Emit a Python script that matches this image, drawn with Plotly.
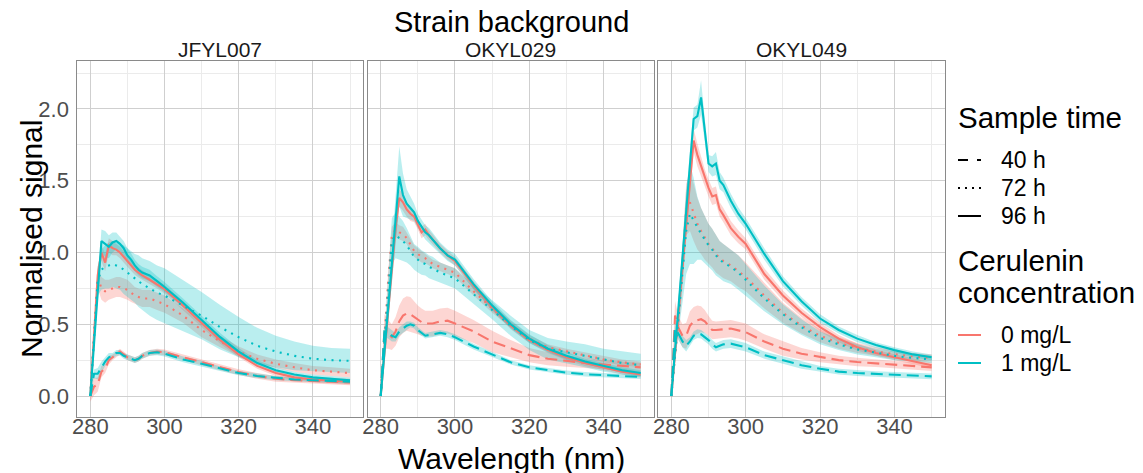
import plotly.graph_objects as go

# ---------------- data ----------------
wavelength = [280, 281, 282, 283, 284, 285, 286, 287, 288, 289, 290, 291, 292, 293, 294,
              296, 298, 300, 305, 310, 315, 320, 325, 330, 335, 340, 345, 350]
strains = ["JFYL007", "OKYL029", "OKYL049"]
times = ["40 h", "72 h", "96 h"]
concs = ["0 mg/L", "1 mg/L"]

# JFYL007
JFYL007_0mg_40h = [0, 0.065, 0.08, 0.17, 0.19, 0.25, 0.27, 0.29, 0.31, 0.29, 0.27, 0.26, 0.25, 0.26, 0.28, 0.30, 0.31, 0.305, 0.27, 0.237, 0.20, 0.167, 0.14, 0.12, 0.11, 0.105, 0.10, 0.095]
JFYL007_0mg_72h = [0, 0.42, 0.83, 0.75, 0.73, 0.74, 0.75, 0.76, 0.76, 0.75, 0.74, 0.72, 0.70, 0.69, 0.68, 0.68, 0.66, 0.64, 0.56, 0.46, 0.38, 0.31, 0.26, 0.225, 0.20, 0.18, 0.17, 0.16]
JFYL007_0mg_96h = [0, 0.45, 0.84, 1.00, 0.93, 1.05, 1.03, 1.02, 1.00, 0.97, 0.94, 0.91, 0.88, 0.86, 0.84, 0.81, 0.78, 0.745, 0.63, 0.51, 0.39, 0.29, 0.21, 0.16, 0.13, 0.115, 0.105, 0.10]
JFYL007_1mg_40h = [0, 0.155, 0.155, 0.20, 0.24, 0.27, 0.28, 0.30, 0.30, 0.28, 0.27, 0.26, 0.25, 0.26, 0.28, 0.30, 0.305, 0.295, 0.255, 0.225, 0.19, 0.16, 0.14, 0.125, 0.115, 0.11, 0.105, 0.10]
JFYL007_1mg_72h = [0, 0.40, 0.80, 0.88, 0.90, 0.91, 0.92, 0.91, 0.90, 0.88, 0.86, 0.84, 0.82, 0.80, 0.78, 0.75, 0.72, 0.70, 0.63, 0.56, 0.48, 0.41, 0.35, 0.31, 0.28, 0.26, 0.25, 0.245]
JFYL007_1mg_96h = [0, 0.35, 0.70, 1.08, 1.06, 1.04, 1.07, 1.08, 1.06, 1.03, 0.98, 0.95, 0.91, 0.88, 0.86, 0.84, 0.80, 0.76, 0.65, 0.53, 0.41, 0.31, 0.23, 0.18, 0.15, 0.13, 0.12, 0.11]
JFYL007_0mg_40h_sd = [0.04, 0.06, 0.05, 0.04, 0.03, 0.03, 0.02, 0.02, 0.02, 0.02, 0.02, 0.02, 0.02, 0.02, 0.02, 0.02, 0.02, 0.02, 0.02, 0.02, 0.02, 0.02, 0.02, 0.02, 0.02, 0.02, 0.02, 0.02]
JFYL007_0mg_72h_sd = [0, 0.05, 0.08, 0.08, 0.08, 0.07, 0.07, 0.07, 0.07, 0.07, 0.07, 0.065, 0.06, 0.06, 0.06, 0.06, 0.06, 0.06, 0.05, 0.05, 0.04, 0.035, 0.03, 0.03, 0.03, 0.03, 0.03, 0.03]
JFYL007_0mg_96h_sd = [0, 0.04, 0.06, 0.06, 0.06, 0.05, 0.05, 0.04, 0.04, 0.04, 0.04, 0.04, 0.035, 0.035, 0.035, 0.03, 0.03, 0.03, 0.03, 0.03, 0.025, 0.02, 0.02, 0.02, 0.02, 0.02, 0.02, 0.02]
JFYL007_1mg_40h_sd = [0, 0.03, 0.04, 0.04, 0.03, 0.03, 0.02, 0.02, 0.02, 0.02, 0.02, 0.02, 0.02, 0.02, 0.02, 0.02, 0.02, 0.02, 0.02, 0.02, 0.015, 0.015, 0.015, 0.015, 0.015, 0.015, 0.015, 0.015]
JFYL007_1mg_72h_sd = [0, 0.05, 0.10, 0.14, 0.15, 0.16, 0.16, 0.16, 0.16, 0.17, 0.17, 0.17, 0.17, 0.18, 0.18, 0.19, 0.19, 0.19, 0.18, 0.165, 0.155, 0.14, 0.125, 0.11, 0.10, 0.09, 0.085, 0.085]
JFYL007_1mg_96h_sd = [0, 0.03, 0.05, 0.08, 0.09, 0.08, 0.07, 0.06, 0.05, 0.05, 0.05, 0.045, 0.04, 0.04, 0.04, 0.04, 0.035, 0.035, 0.03, 0.03, 0.03, 0.025, 0.02, 0.02, 0.02, 0.02, 0.02, 0.02]

# OKYL029
OKYL029_0mg_40h = [0, 0.45, 0.43, 0.41, 0.45, 0.52, 0.56, 0.575, 0.57, 0.55, 0.53, 0.515, 0.505, 0.505, 0.505, 0.52, 0.525, 0.505, 0.45, 0.38, 0.33, 0.285, 0.26, 0.244, 0.23, 0.22, 0.21, 0.20]
OKYL029_0mg_72h = [0, 0.40, 0.80, 1.12, 1.16, 1.14, 1.13, 1.10, 1.05, 1.01, 0.99, 0.97, 0.96, 0.94, 0.92, 0.90, 0.88, 0.86, 0.73, 0.61, 0.50, 0.40, 0.34, 0.31, 0.285, 0.255, 0.235, 0.22]
OKYL029_0mg_96h = [0, 0.30, 0.60, 0.90, 1.17, 1.38, 1.35, 1.30, 1.27, 1.25, 1.20, 1.14, 1.16, 1.12, 1.09, 1.03, 0.98, 0.94, 0.77, 0.62, 0.49, 0.39, 0.32, 0.27, 0.23, 0.20, 0.17, 0.15]
OKYL029_1mg_40h = [0, 0.45, 0.44, 0.42, 0.41, 0.45, 0.47, 0.49, 0.50, 0.49, 0.46, 0.44, 0.42, 0.425, 0.43, 0.44, 0.43, 0.41, 0.345, 0.29, 0.235, 0.20, 0.18, 0.163, 0.152, 0.144, 0.138, 0.133]
OKYL029_1mg_72h = [0, 0.37, 0.75, 1.08, 1.12, 1.10, 1.08, 1.05, 1.01, 0.97, 0.95, 0.93, 0.92, 0.90, 0.89, 0.86, 0.84, 0.82, 0.71, 0.60, 0.49, 0.39, 0.33, 0.305, 0.28, 0.25, 0.23, 0.215]
OKYL029_1mg_96h = [0, 0.31, 0.61, 0.92, 1.22, 1.53, 1.40, 1.34, 1.31, 1.28, 1.22, 1.18, 1.14, 1.12, 1.09, 1.03, 0.98, 0.95, 0.78, 0.63, 0.50, 0.40, 0.33, 0.28, 0.24, 0.21, 0.18, 0.16]
OKYL029_0mg_40h_sd = [0, 0.12, 0.10, 0.09, 0.10, 0.11, 0.12, 0.12, 0.12, 0.11, 0.10, 0.095, 0.09, 0.09, 0.09, 0.09, 0.09, 0.09, 0.08, 0.075, 0.06, 0.05, 0.045, 0.04, 0.035, 0.03, 0.03, 0.03]
OKYL029_0mg_72h_sd = [0, 0.04, 0.06, 0.06, 0.05, 0.05, 0.05, 0.04, 0.04, 0.04, 0.04, 0.04, 0.035, 0.03, 0.03, 0.03, 0.03, 0.03, 0.03, 0.03, 0.025, 0.025, 0.02, 0.02, 0.02, 0.02, 0.02, 0.02]
OKYL029_0mg_96h_sd = [0, 0.04, 0.06, 0.06, 0.06, 0.06, 0.06, 0.05, 0.05, 0.04, 0.04, 0.04, 0.04, 0.035, 0.035, 0.03, 0.03, 0.03, 0.03, 0.025, 0.025, 0.02, 0.02, 0.02, 0.02, 0.02, 0.02, 0.02]
OKYL029_1mg_40h_sd = [0, 0.04, 0.04, 0.04, 0.03, 0.03, 0.03, 0.03, 0.02, 0.02, 0.02, 0.02, 0.02, 0.02, 0.02, 0.02, 0.02, 0.02, 0.02, 0.015, 0.015, 0.015, 0.015, 0.015, 0.015, 0.015, 0.015, 0.015]
OKYL029_1mg_72h_sd = [0, 0.06, 0.12, 0.16, 0.16, 0.15, 0.14, 0.12, 0.10, 0.09, 0.09, 0.085, 0.08, 0.08, 0.08, 0.07, 0.07, 0.07, 0.065, 0.065, 0.07, 0.07, 0.075, 0.075, 0.08, 0.08, 0.08, 0.08]
OKYL029_1mg_96h_sd = [0, 0.05, 0.10, 0.15, 0.18, 0.21, 0.15, 0.10, 0.08, 0.06, 0.05, 0.05, 0.05, 0.05, 0.045, 0.04, 0.04, 0.04, 0.035, 0.03, 0.03, 0.03, 0.025, 0.025, 0.02, 0.02, 0.02, 0.02]

# OKYL049
OKYL049_0mg_40h = [0, 0.56, 0.47, 0.42, 0.42, 0.49, 0.52, 0.53, 0.535, 0.52, 0.49, 0.46, 0.46, 0.46, 0.465, 0.47, 0.46, 0.445, 0.38, 0.33, 0.295, 0.27, 0.25, 0.237, 0.228, 0.219, 0.21, 0.20]
OKYL049_0mg_72h = [0, 0.28, 0.56, 0.90, 1.30, 1.35, 1.28, 1.20, 1.15, 1.10, 1.06, 1.03, 0.99, 0.96, 0.94, 0.91, 0.87, 0.83, 0.70, 0.58, 0.49, 0.42, 0.37, 0.335, 0.31, 0.29, 0.275, 0.265]
OKYL049_0mg_96h = [0, 0.30, 0.60, 0.90, 1.20, 1.50, 1.78, 1.68, 1.60, 1.52, 1.45, 1.39, 1.40, 1.30, 1.26, 1.17, 1.11, 1.06, 0.85, 0.70, 0.58, 0.48, 0.40, 0.34, 0.30, 0.27, 0.24, 0.214]
OKYL049_1mg_40h = [0, 0.47, 0.43, 0.38, 0.35, 0.38, 0.42, 0.435, 0.43, 0.41, 0.39, 0.36, 0.34, 0.35, 0.36, 0.365, 0.355, 0.34, 0.285, 0.25, 0.215, 0.19, 0.17, 0.16, 0.153, 0.148, 0.142, 0.137]
OKYL049_1mg_72h = [0, 0.28, 0.56, 0.85, 1.15, 1.27, 1.22, 1.17, 1.13, 1.09, 1.05, 1.02, 0.98, 0.95, 0.93, 0.90, 0.86, 0.81, 0.68, 0.57, 0.48, 0.405, 0.36, 0.325, 0.30, 0.28, 0.265, 0.255]
OKYL049_1mg_96h = [0, 0.32, 0.64, 0.97, 1.29, 1.61, 1.93, 1.95, 2.08, 1.85, 1.62, 1.60, 1.62, 1.50, 1.47, 1.36, 1.27, 1.20, 0.99, 0.80, 0.66, 0.54, 0.46, 0.40, 0.355, 0.32, 0.29, 0.27]
OKYL049_0mg_40h_sd = [0, 0.10, 0.08, 0.08, 0.09, 0.10, 0.10, 0.10, 0.09, 0.08, 0.07, 0.065, 0.06, 0.06, 0.06, 0.06, 0.06, 0.06, 0.05, 0.05, 0.04, 0.035, 0.03, 0.03, 0.025, 0.025, 0.025, 0.025]
OKYL049_0mg_72h_sd = [0, 0.05, 0.10, 0.15, 0.18, 0.20, 0.20, 0.18, 0.16, 0.15, 0.14, 0.135, 0.13, 0.12, 0.12, 0.11, 0.11, 0.10, 0.09, 0.07, 0.055, 0.045, 0.04, 0.035, 0.03, 0.03, 0.025, 0.025]
OKYL049_0mg_96h_sd = [0, 0.04, 0.06, 0.08, 0.09, 0.10, 0.08, 0.08, 0.07, 0.06, 0.06, 0.06, 0.06, 0.05, 0.05, 0.05, 0.045, 0.04, 0.04, 0.035, 0.03, 0.03, 0.025, 0.025, 0.02, 0.02, 0.02, 0.02]
OKYL049_1mg_40h_sd = [0, 0.04, 0.04, 0.04, 0.04, 0.03, 0.03, 0.03, 0.03, 0.03, 0.03, 0.03, 0.03, 0.03, 0.03, 0.03, 0.03, 0.03, 0.025, 0.025, 0.025, 0.02, 0.02, 0.02, 0.02, 0.02, 0.02, 0.02]
OKYL049_1mg_72h_sd = [0, 0.05, 0.10, 0.20, 0.30, 0.35, 0.30, 0.22, 0.18, 0.16, 0.15, 0.145, 0.14, 0.13, 0.13, 0.12, 0.12, 0.11, 0.09, 0.07, 0.055, 0.045, 0.04, 0.035, 0.03, 0.03, 0.025, 0.025]
OKYL049_1mg_96h_sd = [0, 0.04, 0.06, 0.08, 0.10, 0.10, 0.08, 0.08, 0.12, 0.08, 0.06, 0.07, 0.08, 0.06, 0.05, 0.05, 0.045, 0.04, 0.04, 0.035, 0.03, 0.03, 0.025, 0.025, 0.02, 0.02, 0.02, 0.02]

x_ticks = [280, 300, 320, 340]
x_minor = [290, 310, 330, 350]
y_ticks = [0.0, 0.5, 1.0, 1.5, 2.0]
y_tick_labels = ["0.0", "0.5", "1.0", "1.5", "2.0"]
y_minor = [0.25, 0.75, 1.25, 1.75, 2.25]

# build lookup table from the named lists
g = globals()
mean = {}
sd = {}
for s in strains:
    for c, ck in zip(concs, ["0mg", "1mg"]):
        for t, tk in zip(times, ["40h", "72h", "96h"]):
            mean[(s, c, t)] = g[f"{s}_{ck}_{tk}"]
            sd[(s, c, t)] = g[f"{s}_{ck}_{tk}_sd"]

# ---------------- style ----------------
W, H = 1143, 473
ML, MR, MT, MB = 77, 198, 61, 56
PW, PH = W - ML - MR, H - MT - MB
FONT = "Liberation Sans, Arial, sans-serif"
line_color = {"0 mg/L": "#F8766D", "1 mg/L": "#00BFC4"}
fill_color = {"0 mg/L": "rgba(248,118,109,0.3)", "1 mg/L": "rgba(0,191,196,0.27)"}
dash_style = {"40 h": "12px,6px", "72 h": "2px,5.5px", "96 h": "solid"}
MAJOR = "#CFCFCF"
MINOR = "#EBEBEB"
BORDER = "#8A8A8A"
TICKFONT = dict(family=FONT, size=22, color="#4D4D4D")

def px(X):
    return (X - ML) / PW

def py(Y):
    return (H - MB - Y) / PH

domains = [[px(77.3), px(363.0)], [px(367.7), px(653.7)], [px(658.3), px(944.7)]]

fig = go.Figure()

for i, s in enumerate(strains):
    xa = "x" if i == 0 else f"x{i+1}"
    ya = "y" if i == 0 else f"y{i+1}"
    # ribbons
    for c in concs:
        for t in times:
            m = mean[(s, c, t)]
            e = sd[(s, c, t)]
            upper = [a + b for a, b in zip(m, e)]
            lower = [a - b for a, b in zip(m, e)]
            fig.add_trace(go.Scatter(
                x=wavelength + wavelength[::-1], y=upper + lower[::-1],
                fill="toself", fillcolor=fill_color[c], line=dict(width=0),
                mode="lines", hoverinfo="skip", showlegend=False, xaxis=xa, yaxis=ya))
    # lines
    for c in concs:
        for t in times:
            fig.add_trace(go.Scatter(
                x=wavelength, y=mean[(s, c, t)], mode="lines",
                line=dict(color=line_color[c], width=2.1, dash=dash_style[t]),
                name=f"{c}, {t}", showlegend=False, xaxis=xa, yaxis=ya))

layout = dict(
    width=W, height=H,
    margin=dict(l=ML, r=MR, t=MT, b=MB),
    paper_bgcolor="white", plot_bgcolor="white",
    font=dict(family=FONT, color="black"),
    showlegend=False,
)
for i in range(3):
    xk = "xaxis" if i == 0 else f"xaxis{i+1}"
    yk = "yaxis" if i == 0 else f"yaxis{i+1}"
    layout[xk] = dict(
        domain=domains[i], range=[276.5, 353.5], anchor="y" if i == 0 else f"y{i+1}",
        tickmode="array", tickvals=x_ticks, ticktext=[str(v) for v in x_ticks],
        showgrid=True, gridcolor=MAJOR, gridwidth=1, zeroline=False,
        minor=dict(tickmode="array", tickvals=x_minor, showgrid=True, gridcolor=MINOR, gridwidth=1, ticks=""),
        showline=True, mirror=True, linecolor=BORDER, linewidth=1,
        ticks="", ticklen=0, tickfont=TICKFONT, ticklabelstandoff=-10,
    )
    layout[yk] = dict(
        domain=[0, 1], range=[-0.146, 2.334], anchor="x" if i == 0 else f"x{i+1}",
        tickmode="array", tickvals=y_ticks, ticktext=y_tick_labels,
        showticklabels=(i == 0),
        showgrid=True, gridcolor=MAJOR, gridwidth=1, zeroline=False,
        minor=dict(tickmode="array", tickvals=y_minor, showgrid=True, gridcolor=MINOR, gridwidth=1, ticks=""),
        showline=True, mirror=True, linecolor=BORDER, linewidth=1,
        ticks="", tickfont=TICKFONT, ticklabelstandoff=3,
    )
fig.update_layout(**layout)

ann = []
def text(X, Y, t, size, xanchor="center", color="black", angle=0, height=None):
    d = dict(x=px(X), y=py(Y), xref="paper", yref="paper", text=t, showarrow=False,
             xanchor=xanchor, yanchor="middle", textangle=angle,
             font=dict(family=FONT, size=size, color=color))
    if height is not None:
        d["height"] = height
        d["valign"] = "middle"
    ann.append(d)

text(511, 22, "Strain background", 29, height=32)
for i, s in enumerate(strains):
    cx = (domains[i][0] + domains[i][1]) / 2 * PW + ML
    text(cx, 49, s, 21, color="#1A1A1A", height=20)
text(511, 458, "Wavelength (nm)", 30, height=30)
text(31, 239, "Normalised signal", 30, angle=-90)

# legend (drawn as annotations + key lines)
text(956, 117, "Sample time", 29.5, xanchor="left")
legend_y_time = [160, 188, 216]
for t, yy in zip(times, legend_y_time):
    text(999, yy, t, 23, xanchor="left")
text(956, 260, "Cerulenin", 29.5, xanchor="left")
text(956, 292, "concentration", 29.5, xanchor="left")
legend_y_conc = [335, 363]
for c, yy in zip(concs, legend_y_conc):
    text(999, yy, c, 23, xanchor="left")

shapes = []
legend_dash = {"40 h": "10px,9px", "72 h": "2px,5px", "96 h": "solid"}
for t, yy in zip(times, legend_y_time):
    shapes.append(dict(type="line", xref="paper", yref="paper", x0=px(958), x1=px(981),
                       y0=py(yy), y1=py(yy), line=dict(color="black", width=2, dash=legend_dash[t])))
for c, yy in zip(concs, legend_y_conc):
    shapes.append(dict(type="line", xref="paper", yref="paper", x0=px(958), x1=px(981),
                       y0=py(yy), y1=py(yy), line=dict(color=line_color[c], width=2)))

fig.update_layout(annotations=ann, shapes=shapes)
fig.write_html("out.html")
